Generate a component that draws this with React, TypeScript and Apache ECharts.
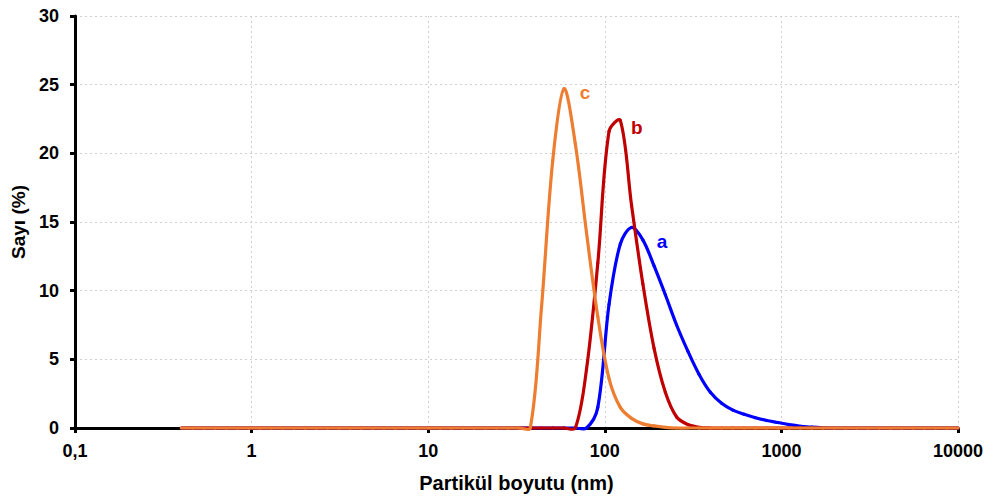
import React, { useEffect, useRef } from "react";
import * as echarts from "echarts";

// Particle size bins (nm)
const sizes: number[] = [
  0.4, 0.4632, 0.5365, 0.6213, 0.7195, 0.8332, 0.9649, 1.117, 1.294, 1.499,
  1.736, 2.01, 2.328, 2.696, 3.122, 3.615, 4.187, 4.849, 5.615, 6.503,
  7.531, 8.721, 10.1, 11.7, 13.54, 15.69, 18.17, 21.04, 24.36, 28.21,
  32.67, 37.84, 43.82, 50.75, 58.77, 68.06, 78.82, 91.28, 105.7, 122.4,
  141.8, 164.2, 190.1, 220.2, 255.0, 295.3, 342.0, 396.1, 458.7, 531.2,
  615.1, 712.4, 825.0, 955.4, 1106, 1281, 1484, 1718, 1990, 2305,
  2669, 3091, 3580, 4145, 4801, 5560, 6439, 7456, 8635, 10000,
];

// Number (%) for sample a
const seriesA: number[] = [
  0, 0, 0, 0, 0, 0, 0, 0, 0, 0,
  0, 0, 0, 0, 0, 0, 0, 0, 0, 0,
  0, 0, 0, 0, 0, 0, 0, 0, 0, 0,
  0, 0, 0, 0, 0, 0, 0, 1.5, 9.0, 13.4,
  14.6, 13.7, 11.8, 9.7, 7.5, 5.6, 3.9, 2.6, 1.8, 1.3,
  1.0, 0.75, 0.55, 0.4, 0.25, 0.12, 0.06, 0.02, 0, 0,
  0, 0, 0, 0, 0, 0, 0, 0, 0, 0,
];

// Number (%) for sample b
const seriesB: number[] = [
  0, 0, 0, 0, 0, 0, 0, 0, 0, 0,
  0, 0, 0, 0, 0, 0, 0, 0, 0, 0,
  0, 0, 0, 0, 0, 0, 0, 0, 0, 0,
  0, 0, 0, 0, 0, 0, 4.3, 12.0, 21.6, 22.4,
  16.2, 10.5, 5.8, 2.6, 0.8, 0.25, 0.05, 0, 0, 0,
  0, 0, 0, 0, 0, 0, 0, 0, 0, 0,
  0, 0, 0, 0, 0, 0, 0, 0, 0, 0,
];

// Number (%) for sample c
const seriesC: number[] = [
  0, 0, 0, 0, 0, 0, 0, 0, 0, 0,
  0, 0, 0, 0, 0, 0, 0, 0, 0, 0,
  0, 0, 0, 0, 0, 0, 0, 0, 0, 0,
  0, 0, 8.8, 19.5, 24.7, 20.7, 14.2, 8.1, 3.6, 1.5,
  0.7, 0.3, 0.15, 0.05, 0, 0, 0, 0, 0, 0,
  0, 0, 0, 0, 0, 0, 0, 0, 0, 0,
  0, 0, 0, 0, 0, 0, 0, 0, 0, 0,
];

const seriesNames = ["a", "b", "c"];
const seriesColors = ["#0000FF", "#C00000", "#ED7D31"];
// label anchor positions (size nm, %) for the curve letters
const labelAnchors: [number, number][] = [
  [211, 13.55],
  [152, 21.85],
  [77.3, 24.4],
];

const FONT = "'Liberation Sans', Arial, sans-serif";

function makeRenderItem(vals: number[], color: string) {
  return (params: any, api: any) => {
    const i = params.dataIndex;
    const n = sizes.length;
    if (i >= n - 1) return null;
    const pt = (j: number) => {
      const k = Math.max(0, Math.min(n - 1, j));
      return api.coord([sizes[k], vals[k]]);
    };
    const p0 = pt(i - 1);
    const p1 = pt(i);
    const p2 = pt(i + 1);
    const p3 = pt(i + 2);
    const dist = (a: number[], b: number[]) => Math.hypot(a[0] - b[0], a[1] - b[1]);
    const d01 = dist(p0, p1);
    const d12 = dist(p1, p2);
    const d23 = dist(p2, p3);
    const s = 1 / 3;
    const r1 = d01 + d12 > 0 ? d12 / (d01 + d12) : 0.5;
    const r2 = d12 + d23 > 0 ? d12 / (d12 + d23) : 0.5;
    return {
      type: "bezierCurve",
      shape: {
        x1: p1[0],
        y1: p1[1],
        cpx1: p1[0] + (p2[0] - p0[0]) * s * r1,
        cpy1: p1[1] + (p2[1] - p0[1]) * s * r1,
        cpx2: p2[0] - (p3[0] - p1[0]) * s * r2,
        cpy2: p2[1] - (p3[1] - p1[1]) * s * r2,
        x2: p2[0],
        y2: p2[1],
      },
      style: { stroke: color, lineWidth: 3.2, fill: null, lineCap: "round" },
    };
  };
}

export default function App() {
  const ref = useRef<HTMLDivElement>(null);
  useEffect(() => {
    if (!ref.current) return;
    const chart = echarts.init(ref.current, undefined, { renderer: "svg" });
    const all = [seriesA, seriesB, seriesC];
    chart.setOption({
      animation: false,
      backgroundColor: "#ffffff",
      grid: { left: 75, right: 37, top: 16, bottom: 71, containLabel: false },
      xAxis: {
        type: "log",
        logBase: 10,
        min: 0.1,
        max: 10000,
        name: "Partikül boyutu (nm)",
        nameLocation: "middle",
        nameGap: 45,
        nameTextStyle: { fontFamily: FONT, fontWeight: "bold", fontSize: 20, color: "#000" },
        axisLine: { show: true, onZero: false, lineStyle: { color: "#000", width: 3 } },
        axisTick: { show: true, inside: false, length: 5, lineStyle: { color: "#000", width: 3 } },
        minorTick: { show: false },
        axisLabel: {
          margin: 14,
          fontFamily: FONT,
          fontWeight: "bold",
          fontSize: 18,
          color: "#000",
          formatter: (v: number) => String(Number(v.toPrecision(6))).replace(".", ","),
        },
        splitLine: { show: true, lineStyle: { color: "#d0d0d0", width: 1, type: [2, 3] } },
      },
      yAxis: {
        type: "value",
        min: 0,
        max: 30,
        interval: 5,
        name: "Sayı (%)",
        nameLocation: "middle",
        nameGap: 46,
        nameTextStyle: { fontFamily: FONT, fontWeight: "bold", fontSize: 19, color: "#000" },
        axisLine: { show: true, lineStyle: { color: "#000", width: 3 } },
        axisTick: { show: true, inside: false, length: 5, lineStyle: { color: "#000", width: 3 } },
        axisLabel: {
          margin: 16,
          fontFamily: FONT,
          fontWeight: "bold",
          fontSize: 18,
          color: "#000",
        },
        splitLine: { show: true, lineStyle: { color: "#d0d0d0", width: 1, type: [2, 3] } },
      },
      series: all.map((vals, i) => ({
        name: seriesNames[i],
        type: "custom",
        data: sizes.map((s, k) => [s, vals[k]]),
        encode: { x: 0, y: 1 },
        renderItem: makeRenderItem(vals, seriesColors[i]),
        z: 2 + i,
        markPoint: {
          symbol: "circle",
          symbolSize: 1,
          itemStyle: { color: "rgba(0,0,0,0)" },
          label: {
            show: true,
            position: "inside",
            formatter: seriesNames[i],
            fontFamily: FONT,
            fontWeight: "bold",
            fontSize: 19,
            color: seriesColors[i],
          },
          data: [{ coord: labelAnchors[i] }],
        },
      })),
    });
    return () => chart.dispose();
  }, []);
  return (
    <div
      ref={ref}
      style={{ position: "fixed", left: 0, top: 0, width: 995, height: 499, background: "#fff" }}
    />
  );
}
